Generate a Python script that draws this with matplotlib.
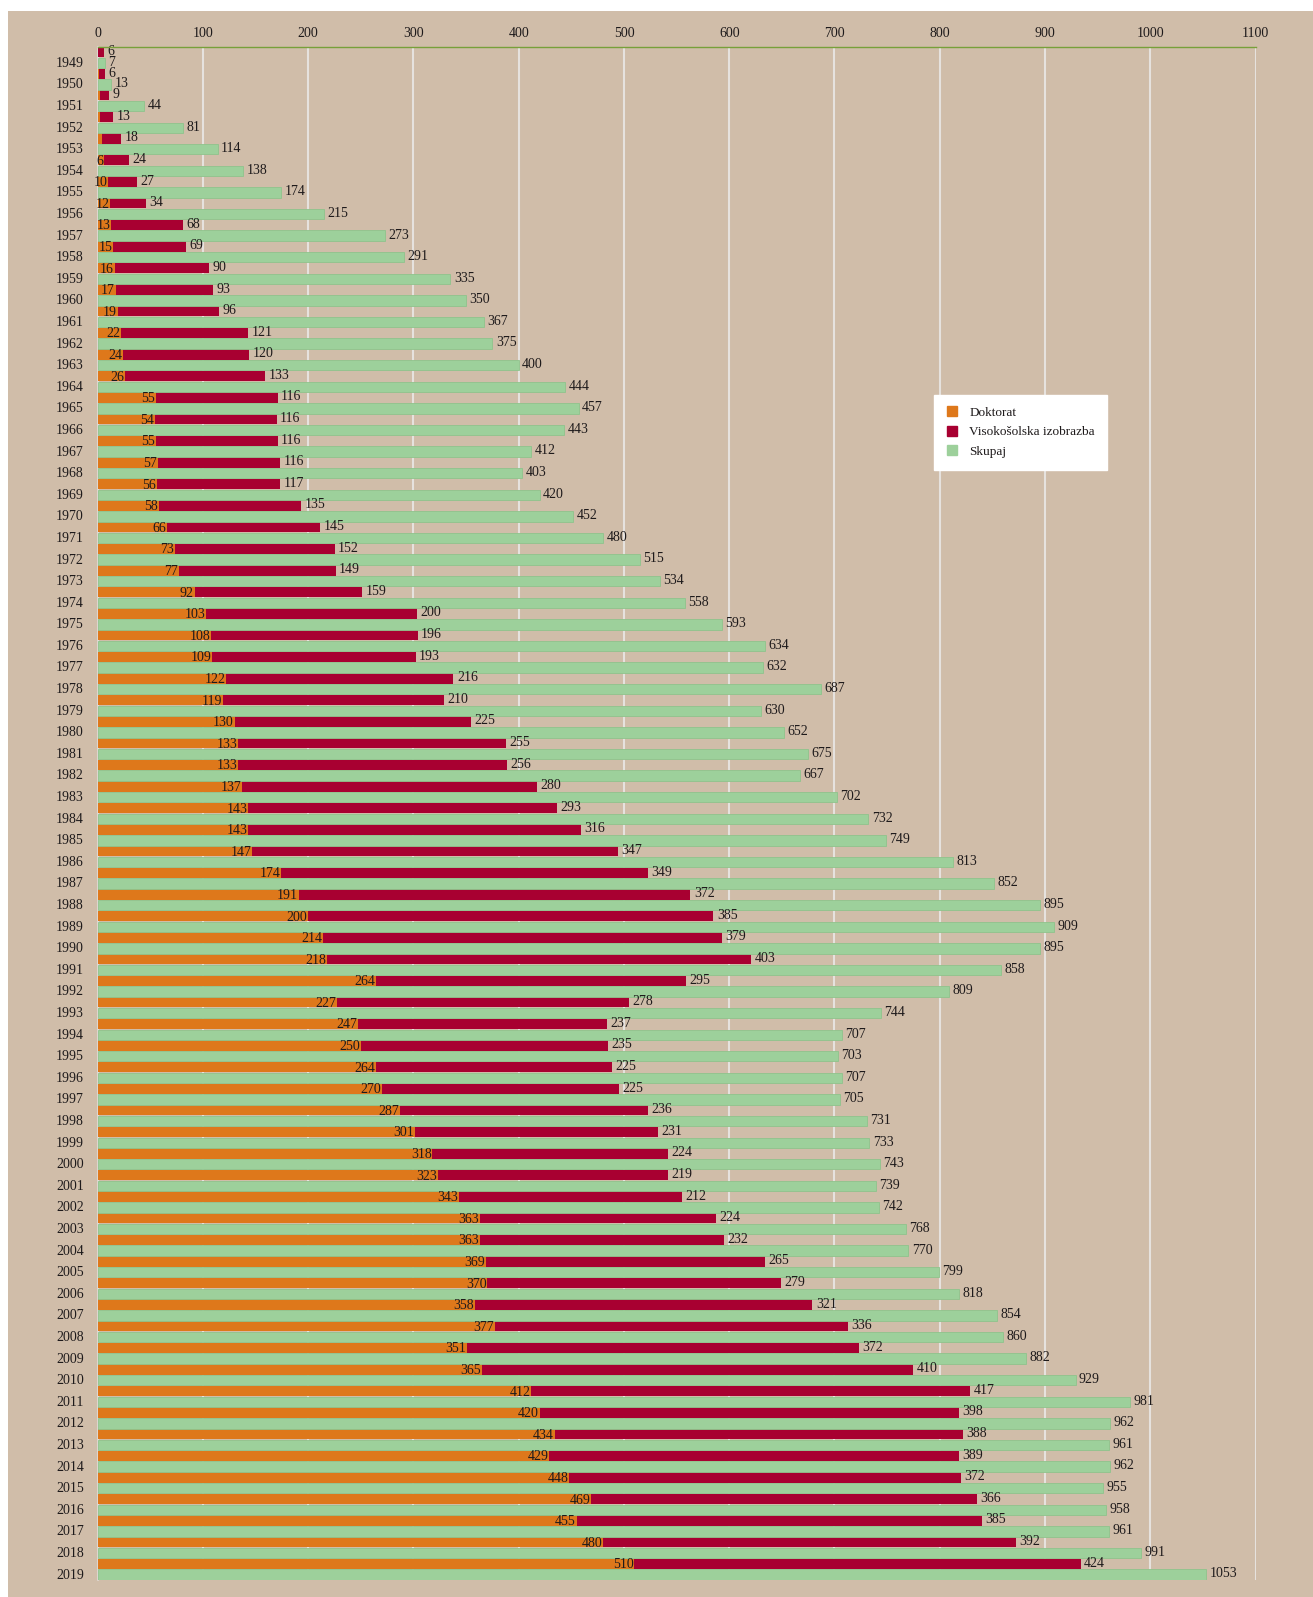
import numpy as np
import matplotlib
matplotlib.use('Agg')
import matplotlib.pyplot as plt
from matplotlib.patches import Rectangle
from matplotlib.lines import Line2D

years = list(range(1949, 2020))

doktorat = [0, 1, 2, 2, 4, 6, 10, 12, 13, 15,
            16, 17, 19, 22, 24, 26, 55, 54, 55, 57,
            56, 58, 66, 73, 77, 92, 103, 108, 109, 122,
            119, 130, 133, 133, 137, 143, 143, 147, 174, 191,
            200, 214, 218, 264, 227, 247, 250, 264, 270, 287,
            301, 318, 323, 343, 363, 363, 369, 370, 358, 377,
            351, 365, 412, 420, 434, 429, 448, 469, 455, 480,
            510]

visoko = [6, 6, 9, 13, 18, 24, 27, 34, 68, 69,
          90, 93, 96, 121, 120, 133, 116, 116, 116, 116,
          117, 135, 145, 152, 149, 159, 200, 196, 193, 216,
          210, 225, 255, 256, 280, 293, 316, 347, 349, 372,
          385, 379, 403, 295, 278, 237, 235, 225, 225, 236,
          231, 224, 219, 212, 224, 232, 265, 279, 321, 336,
          372, 410, 417, 398, 388, 389, 372, 366, 385, 392,
          424]

skupaj = [7, 13, 44, 81, 114, 138, 174, 215, 273, 291,
          335, 350, 367, 375, 400, 444, 457, 443, 412, 403,
          420, 452, 480, 515, 534, 558, 593, 634, 632, 687,
          630, 652, 675, 667, 702, 732, 749, 813, 852, 895,
          909, 895, 858, 809, 744, 707, 703, 707, 705, 731,
          733, 743, 739, 742, 768, 770, 799, 818, 854, 860,
          882, 929, 981, 962, 961, 962, 955, 958, 961, 991,
          1053]

x_ticks = list(range(0, 1200, 100))

ORANGE = '#de781b'
CRIMSON = '#a80031'
GREEN = '#9dd09b'
TAN = '#d0bda9'
TEXT = '#1e1a1b'

plt.rcParams['font.family'] = ['Liberation Serif', 'DejaVu Serif']
plt.rcParams['font.size'] = 10

fig = plt.figure(figsize=(13.13, 15.97), dpi=100, facecolor='white')
bg = Rectangle((8 / 1313, 0), 1 - 8 / 1313, 1 - 11 / 1597,
               transform=fig.transFigure, facecolor=TAN,
               edgecolor='none', zorder=-10)
fig.patches.append(bg)

ax = fig.add_axes([97.7 / 1313, 1 - 1580 / 1597, (1255.5 - 97.7) / 1313, (1580 - 46.7) / 1597])
ax.set_facecolor(TAN)

y = np.arange(len(years))
d = np.array(doktorat)
v = np.array(visoko)
s = np.array(skupaj)
h = 0.48

ax.barh(y - 0.25, d, height=h, color=ORANGE, zorder=3)
ax.barh(y - 0.25, v, left=d, height=h, color=CRIMSON, zorder=3)
ax.barh(y + 0.25, s, height=h, color=GREEN, edgecolor='#8fc38c', linewidth=0.6, zorder=3)

for i in range(len(years)):
    if d[i] >= 6:
        ax.annotate(str(d[i]), xy=(d[i], y[i] - 0.2), xytext=(-0.5, 0),
                    textcoords='offset points', ha='right', va='center',
                    color=TEXT, zorder=5)
    ax.annotate(str(v[i]), xy=(d[i] + v[i], y[i] - 0.28), xytext=(2.5, 0),
                textcoords='offset points', ha='left', va='center',
                color=TEXT, zorder=5)
    ax.annotate(str(s[i]), xy=(s[i], y[i] + 0.22), xytext=(2.5, 0),
                textcoords='offset points', ha='left', va='center',
                color=TEXT, zorder=5)

ax.set_xlim(0, 1100)
ax.set_ylim(len(years) - 0.5, -0.5)
ax.xaxis.tick_top()
ax.set_xticks(x_ticks)
ax.set_xticklabels([str(t) for t in x_ticks], color=TEXT)
ax.set_yticks(y + 0.2)
ax.set_yticklabels([str(yr) for yr in years], color=TEXT)
ax.tick_params(axis='x', length=0, pad=5)
ax.tick_params(axis='y', length=0, pad=10)

ax.grid(axis='x', color='#e6e2de', linewidth=1.5, zorder=1)
ax.set_axisbelow(True)

for side in ['right', 'bottom']:
    ax.spines[side].set_visible(False)
ax.spines['top'].set_color('#77a03a')
ax.spines['top'].set_linewidth(1.0)
ax.spines['top'].set_zorder(6)
ax.spines['left'].set_color('#e0dcd8')
ax.spines['left'].set_linewidth(1.2)

handles = [Line2D([], [], marker='s', linestyle='none', markersize=7.5,
                  markerfacecolor=c, markeredgecolor=c) for c in [ORANGE, CRIMSON, GREEN]]
leg = ax.legend(handles, ['Doktorat', 'Visokošolska izobrazba', 'Skupaj'],
                loc='upper left', bbox_to_anchor=(0.722, 0.773),
                frameon=True, fancybox=False, framealpha=1, edgecolor='white',
                facecolor='white', borderpad=0.9, labelspacing=0.55,
                handlelength=1.0, handletextpad=0.8, borderaxespad=0,
                fontsize=9.5)
for t in leg.get_texts():
    t.set_color(TEXT)

fig.savefig('out.png', dpi=100, facecolor='white')
